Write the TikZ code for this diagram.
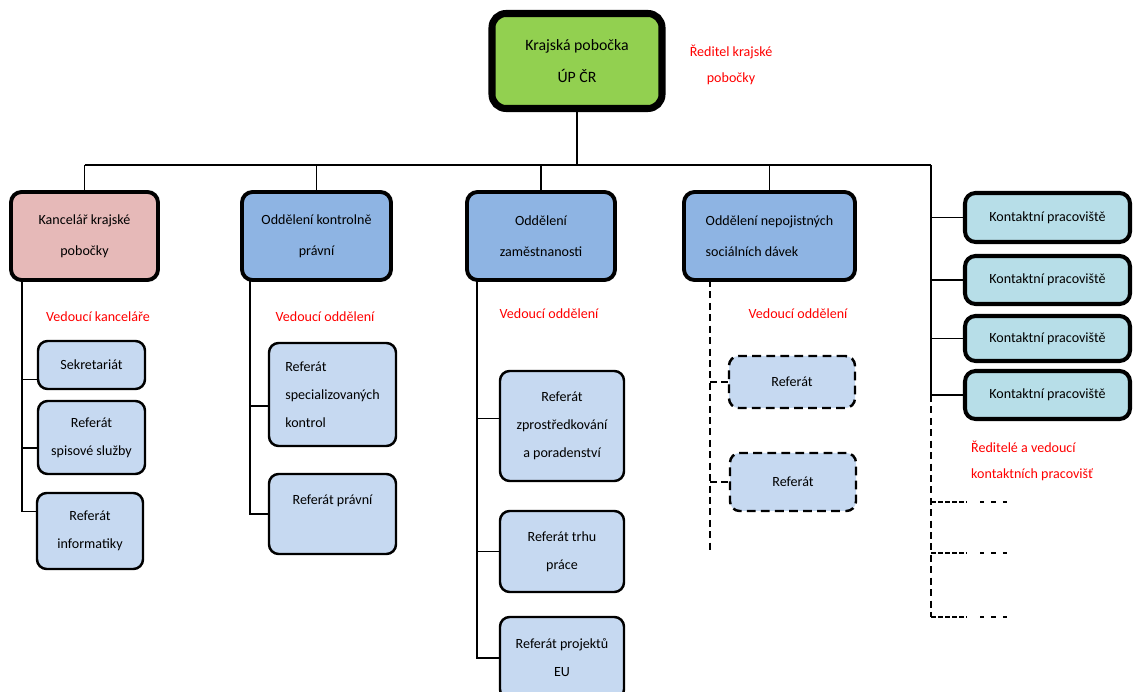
\documentclass[tikz,border=0pt]{standalone}
\usepackage{fontspec}
\setmainfont{Carlito}
\definecolor{topgreen}{HTML}{92D050}
\definecolor{officepink}{HTML}{E6B9B8}
\definecolor{deptblue}{HTML}{8EB4E3}
\definecolor{refblue}{HTML}{C6D9F1}
\definecolor{contactcyan}{HTML}{B7DEE8}
\begin{document}
\begin{tikzpicture}[x=0.02cm, y=-0.02cm,
		wh/.style 2 args={minimum width=#1*0.02cm, minimum height=#2*0.02cm},
		box/.style={draw, rounded corners=6pt, align=center, inner sep=2pt},
		headbox/.style={box, fill=topgreen, line width=4pt, rounded corners=8pt, font=\fontsize{9}{18.5}\selectfont},
		deptbox/.style={box, fill=deptblue, line width=2.2pt, font=\fontsize{8}{17.5}\selectfont, wh={#1}{88}},
		refbox/.style={box, fill=refblue, line width=1.4pt, rounded corners=5.5pt, font=\fontsize{8}{16}\selectfont},
		contactbox/.style={box, fill=contactcyan, line width=2.3pt, font=\fontsize{8}{10}\selectfont, wh={165}{#1}},
		bosslabel/.style={text=red, align=center, font=\fontsize{8}{15}\selectfont},
		conn/.style={line width=0.8pt},
		dconn/.style={conn, dash pattern=on 4pt off 2.5pt}]
		\useasboundingbox (0,0) rectangle (1133,692);
		\node[headbox, wh={170}{95}] (krp) at (577,61) {Krajská pobočka\\ÚP ČR};
		\node[bosslabel] (krpboss) at (731,65) {Ředitel krajské\\pobočky};
		\node[deptbox=147, fill=officepink] (kanc) at (84.5,236) {Kancelář krajské\\pobočky};
		\node[deptbox=149] (kontr) at (316.5,236) {Oddělení kontrolně\\právní};
		\node[deptbox=148] (zam) at (541,236) {Oddělení\\zaměstnanosti};
		\node[deptbox=171, align=left] (nep) at (769.5,236) {Oddělení nepojistných\\sociálních dávek};
		\node[contactbox=49] (kp1) at (1047.5,217.5) {Kontaktní pracoviště};
		\node[contactbox=48] (kp2) at (1047.5,280) {Kontaktní pracoviště};
		\node[contactbox=45] (kp3) at (1047.5,338.5) {Kontaktní pracoviště};
		\node[contactbox=48] (kp4) at (1047.5,395) {Kontaktní pracoviště};
		\node[bosslabel] (kancboss) at (98,317) {Vedoucí kanceláře};
		\node[bosslabel] (kontrboss) at (325,317) {Vedoucí oddělení};
		\node[bosslabel] (zamboss) at (549,314) {Vedoucí oddělení};
		\node[bosslabel] (nepboss) at (798,314) {Vedoucí oddělení};
		\node[bosslabel, align=left, anchor=west] (kpboss) at (965,461) {Ředitelé a vedoucí\\kontaktních pracovišť};
		\node[refbox, wh={107}{48}] (sek) at (91.5,365) {Sekretariát};
		\node[refbox, wh={107}{73}] (spis) at (91.5,437.5) {Referát\\spisové služby};
		\node[refbox, wh={106}{76}] (info) at (90,531) {Referát\\informatiky};
		\node[refbox, wh={127}{103}, align=left] (spec) at (332.5,394.5) {Referát\\specializovaných\\kontrol};
		\node[refbox, wh={127}{80}, align=left] (prav) at (332.5,514) {Referát právní\\\mbox{}};
		\node[refbox, wh={124}{110}] (zpro) at (562,426) {Referát\\zprostředkování\\a poradenství};
		\node[refbox, wh={124}{81}] (trh) at (562,551.5) {Referát trhu\\práce};
		\node[refbox, wh={124}{82}] (eu) at (562,658) {Referát projektů\\EU};
		\node[refbox, wh={126}{52}, dash pattern=on 5pt off 3pt] (nr1) at (792,382) {Referát};
		\node[refbox, wh={126}{58}, dash pattern=on 5pt off 3pt] (nr2) at (793,482) {Referát};
		\coordinate (bus) at (577,165);
		\coordinate (kpbus) at (931,165);
		\draw[conn] (krp) -- (bus);
		\draw[conn] (kanc.north |- bus) -- (kpbus);
		\foreach \d in {kanc,kontr,zam,nep}
			\draw[conn] (\d) -- (\d.north |- bus);
		\draw[conn] (kpbus) -- (kpbus |- kp4.west);
		\foreach \i in {1,...,4}
			\draw[conn] (kpbus |- kp\i.west) -- (kp\i);
		\coordinate (kpend) at (931,617);
		\draw[dconn] (kpbus |- kp4.west) -- (kpend);
		\foreach \y in {502,553,617} {
			\draw[conn, dash pattern=on 2.6pt off 1.4pt] (931,\y) -- ++(36,0);
			\draw[conn, dash pattern=on 2.5pt off 4pt] (980,\y) -- ++(30,0);
		}
		\coordinate (kanct) at (22,280);
		\draw[conn] (kanct) -- (kanct |- info.160) -- (info.160);
		\draw[conn] (kanct |- sek.195) -- (sek.195);
		\draw[conn] (kanct |- spis.191) -- (spis.191);
		\coordinate (kontrt) at (250,280);
		\draw[conn] (kontrt) -- (kontrt |- prav.west) -- (prav.west);
		\draw[conn] (kontrt |- spec.190) -- (spec.190);
		\coordinate (zamt) at (477,280);
		\draw[conn] (zamt) -- (zamt |- eu.west) -- (eu.west);
		\draw[conn] (zamt |- zpro.173) -- (zpro.173);
		\draw[conn] (zamt |- trh.west) -- (trh.west);
		\coordinate (nept) at (710,280);
		\coordinate (nepend) at (710,552);
		\draw[dconn] (nept) -- (nepend);
		\draw[dconn] (nept |- nr1.west) -- (nr1.west);
		\draw[dconn] (nept |- nr2.west) -- (nr2.west);
	\end{tikzpicture}
\end{document}
